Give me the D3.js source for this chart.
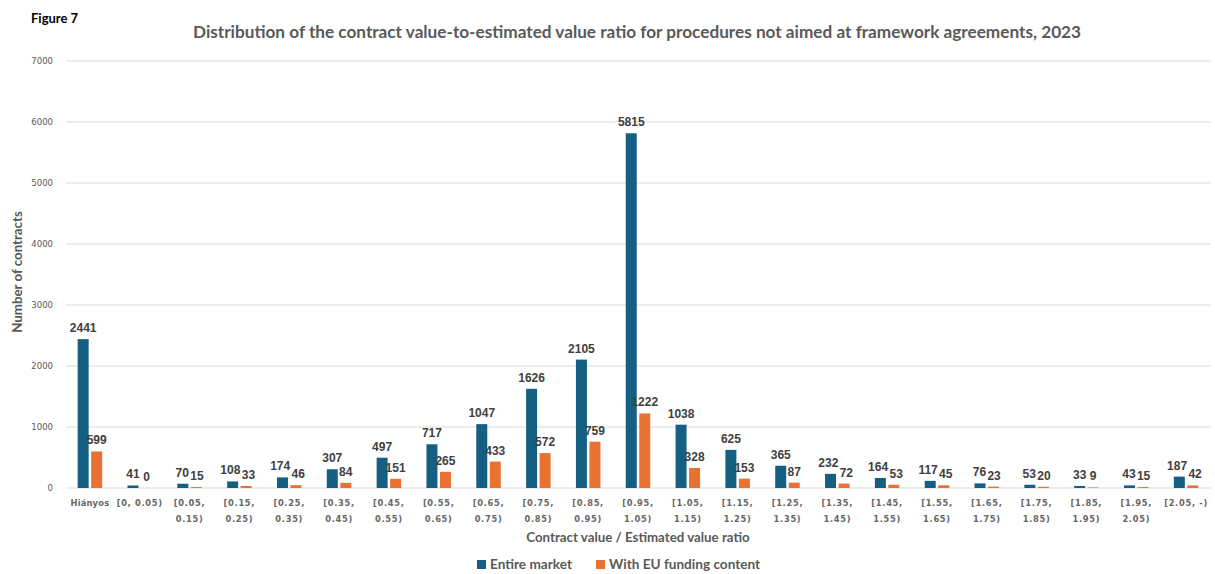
<!DOCTYPE html>
<html>
<head>
<meta charset="utf-8">
<script src="https://cdn.jsdelivr.net/npm/d3@7"></script>
<style>
  html, body { margin: 0; padding: 0; background: #fff; }
  svg { display: block; }
</style>
</head>
<body>
<svg id="chart" width="1215" height="574"></svg>
<script>
// Ratio bands (contract value / estimated value)
const categories = [
  "Hiányos", "[0, 0.05)", "[0.05, 0.15)", "[0.15, 0.25)", "[0.25, 0.35)",
  "[0.35, 0.45)", "[0.45, 0.55)", "[0.55, 0.65)", "[0.65, 0.75)", "[0.75, 0.85)",
  "[0.85, 0.95)", "[0.95, 1.05)", "[1.05, 1.15)", "[1.15, 1.25)", "[1.25, 1.35)",
  "[1.35, 1.45)", "[1.45, 1.55)", "[1.55, 1.65)", "[1.65, 1.75)", "[1.75, 1.85)",
  "[1.85, 1.95)", "[1.95, 2.05)", "[2.05, -)"
];
// Number of contracts per band
const entireMarket = [2441, 41, 70, 108, 174, 307, 497, 717, 1047, 1626, 2105, 5815,
  1038, 625, 365, 232, 164, 117, 76, 53, 33, 43, 187];
const euFunded = [599, 0, 15, 33, 46, 84, 151, 265, 433, 572, 759, 1222,
  328, 153, 87, 72, 53, 45, 23, 20, 9, 15, 42];
const yTicks = [0, 1000, 2000, 3000, 4000, 5000, 6000, 7000];
const seriesNames = ["Entire market", "With EU funding content"];
const colors = ["#156082", "#E97132"];

const svg = d3.select("#chart");
const margin = { left: 65, right: 4, top: 61, bottom: 86 };
const W = 1215, H = 574;
const plotBottom = H - margin.bottom; // 488

const x = d3.scaleBand().domain(categories).range([margin.left, W - margin.right]).padding(0);
const y = d3.scaleLinear().domain([0, 7000]).range([plotBottom, margin.top]);
const barW = 11, gap = 2.5;

// Gridlines
svg.append("g").selectAll("line").data(yTicks).join("line")
  .attr("x1", 66).attr("x2", 1211)
  .attr("y1", d => y(d)).attr("y2", d => y(d))
  .attr("stroke", "#d9d9d9").attr("stroke-width", 1);

// Y axis labels
const yAxis = d3.axisLeft(y).tickValues(yTicks).tickSize(0).tickPadding(0).tickFormat(d3.format("d"));
const ya = svg.append("g").attr("transform", "translate(53,0)").call(yAxis);
ya.select(".domain").remove();
ya.selectAll("text").attr("font-family", "DejaVu Sans, sans-serif")
  .attr("font-size", 8.5).attr("fill", "#595959").attr("dy", "0.32em");

// Bars with value labels
const series = [entireMarket, euFunded];
const labelSel = [];
series.forEach((vals, si) => {
  const offset = si === 0 ? -(barW + gap / 2) : gap / 2;
  const g = svg.append("g");
  g.selectAll("rect").data(vals).join("rect")
    .attr("x", (d, i) => x(categories[i]) + x.bandwidth() / 2 + offset)
    .attr("y", d => y(d))
    .attr("width", barW)
    .attr("height", d => plotBottom - y(d))
    .attr("fill", colors[si]);
  labelSel.push(g.selectAll("text").data(vals).join("text")
    .attr("x", (d, i) => x(categories[i]) + x.bandwidth() / 2 + offset + barW / 2)
    .attr("y", d => y(d) - 7)
    .attr("text-anchor", "middle")
    .attr("font-family", "Liberation Sans, Arial, sans-serif")
    .attr("font-weight", "bold").attr("font-size", 12)
    .attr("fill", "#404040")
    .text(d => d));
});

// Push apart the two labels of a category when they collide
const blueNodes = labelSel[0].nodes(), orangeNodes = labelSel[1].nodes();
blueNodes.forEach((bn, i) => {
  const on = orangeNodes[i];
  const a = bn.getBBox(), b = on.getBBox();
  const vOverlap = a.y < b.y + b.height - 2 && b.y < a.y + a.height - 2;
  const hOverlap = a.x + a.width + 1 - b.x;
  if (vOverlap && hOverlap > 0) {
    bn.setAttribute("x", +bn.getAttribute("x") - hOverlap / 2);
    on.setAttribute("x", +on.getAttribute("x") + hOverlap / 2);
  }
});

// X axis category labels (wrapped after the comma)
const xl = svg.append("g");
categories.forEach(c => {
  const cx = x(c) + x.bandwidth() / 2;
  const parts = (c.startsWith("[") && c !== "[0, 0.05)" && c !== "[2.05, -)")
    ? [c.split(" ")[0], c.split(" ")[1]] : [c];
  const t = xl.append("text").attr("x", cx).attr("y", 506)
    .attr("text-anchor", "middle")
    .attr("font-family", "DejaVu Sans, sans-serif").attr("font-weight", "bold")
    .attr("font-size", 8.3).attr("fill", "#666666")
    .attr("letter-spacing", c.startsWith("[") ? 0.7 : 0.2);
  parts.forEach((p, i) => {
    t.append("tspan").attr("x", cx).attr("dy", i === 0 ? 0 : 16).text(p);
  });
});

// Titles
svg.append("text").attr("x", 31).attr("y", 23)
  .attr("font-family", "Lato, sans-serif").attr("font-weight", "bold")
  .attr("font-size", 13).attr("fill", "#000").text("Figure 7");

svg.append("text").attr("x", 637).attr("y", 38).attr("text-anchor", "middle")
  .attr("font-family", "Lato, sans-serif").attr("font-weight", "bold")
  .attr("font-size", 17.2).attr("fill", "#595959")
  .text("Distribution of the contract value-to-estimated value ratio for procedures not aimed at framework agreements, 2023");

svg.append("text").attr("x", 638).attr("y", 542).attr("text-anchor", "middle")
  .attr("font-family", "Lato, sans-serif").attr("font-weight", "bold")
  .attr("font-size", 13.3).attr("fill", "#595959")
  .text("Contract value / Estimated value ratio");

svg.append("text")
  .attr("transform", "translate(22,272) rotate(-90)")
  .attr("text-anchor", "middle")
  .attr("font-family", "Lato, sans-serif").attr("font-weight", "bold")
  .attr("font-size", 13.3).attr("fill", "#595959")
  .text("Number of contracts");

// Legend
const legend = svg.append("g");
const legendX = [477, 596];
seriesNames.forEach((n, i) => {
  legend.append("rect").attr("x", legendX[i]).attr("y", 560).attr("width", 9).attr("height", 9).attr("fill", colors[i]);
  legend.append("text").attr("x", legendX[i] + 13).attr("y", 569)
    .attr("font-family", "Lato, sans-serif").attr("font-weight", "bold")
    .attr("font-size", 13.6).attr("fill", "#595959").text(n);
});
</script>
</body>
</html>
